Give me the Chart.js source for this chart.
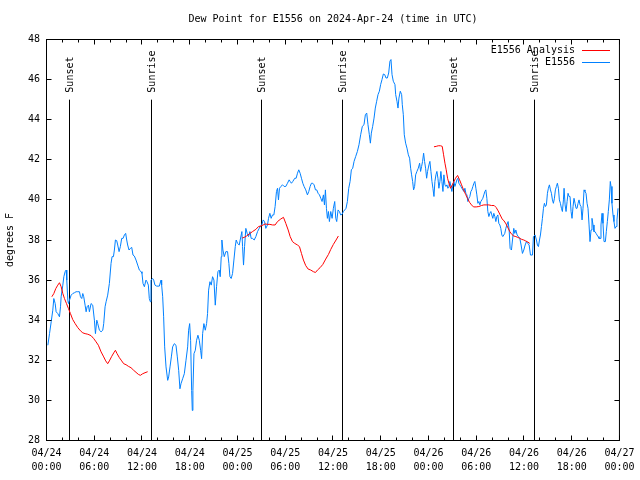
<!DOCTYPE html>
<html>
<head>
<meta charset="utf-8">
<title>Dew Point for E1556</title>
<script src="https://cdn.jsdelivr.net/npm/chart.js@4/dist/chart.umd.min.js"></script>
<style>
  html, body { margin: 0; padding: 0; background: #fff; }
  #wrap { width: 640px; height: 480px; }
</style>
</head>
<body>
<div id="wrap"><canvas id="dewChart" width="640" height="480"></canvas></div>
<script>
// Times are hours since 2024-04-24 00:00 UTC, values in degrees F

// E1556 observations
const obsHours = [
  0.17,0.38,0.59,0.79,0.92,1.09,1.21,1.42,1.63,1.76,
  1.84,2.05,2.18,2.34,2.47,2.55,2.68,2.76,2.89,3.10,
  3.30,3.51,3.72,3.93,4.14,4.27,4.43,4.56,4.68,4.85,
  4.98,5.10,5.27,5.39,5.60,5.81,6.02,6.15,6.32,6.44,
  6.65,6.86,7.07,7.19,7.36,7.49,7.69,7.90,8.11,8.24,
  8.41,8.53,8.66,8.82,8.95,9.12,9.28,9.45,9.62,9.79,
  9.95,10.08,10.20,10.37,10.54,10.71,10.87,11.04,11.25,11.46,
  11.67,11.88,12.00,12.13,12.30,12.50,12.63,12.80,12.92,13.05,
  13.13,13.34,13.47,13.63,13.84,14.18,14.39,14.47,14.60,
  14.72,14.85,15.02,15.23,15.35,15.52,15.69,15.85,16.06,16.27,
  16.44,16.61,16.77,16.90,17.11,17.32,17.53,17.74,17.86,17.99,
  18.11,18.24,18.32,18.40,18.53,18.70,18.86,19.03,19.20,19.37,
  19.49,19.62,19.78,19.95,20.12,20.24,20.37,20.54,20.70,20.87,
  21.04,21.21,21.37,21.54,21.71,21.83,21.96,22.04,22.17,22.34,
  22.54,22.75,22.92,23.05,23.21,23.38,23.55,23.72,23.84,24.01,
  24.22,24.34,24.55,24.64,24.76,24.89,25.05,25.22,25.39,25.56,
  25.72,25.89,26.10,26.31,26.52,26.73,26.85,27.06,27.23,27.40,
  27.56,27.77,27.90,28.07,28.23,28.40,28.57,28.73,28.90,29.03,29.15,
  29.28,29.45,29.66,29.86,30.07,30.28,30.49,30.62,30.78,30.95,
  31.20,31.37,31.54,31.70,31.87,32.04,32.21,32.37,32.58,32.79,
  32.96,33.13,33.29,33.46,33.63,33.80,33.96,34.13,34.30,34.47,
  34.63,34.80,34.93,35.05,35.18,35.30,35.43,35.55,35.72,35.89,
  36.05,36.22,36.35,36.47,36.64,36.81,36.97,37.14,37.31,37.48,
  37.64,37.81,37.98,38.15,38.31,38.48,38.65,38.86,39.07,39.27,
  39.48,39.69,39.90,40.07,40.24,40.40,40.57,40.70,40.82,40.99,
  41.16,41.32,41.49,41.66,41.83,41.99,42.16,42.33,42.50,42.66,
  42.83,43.00,43.16,43.29,43.42,43.58,
  43.63,43.79,43.88,44.04,44.17,44.29,44.46,44.63,44.71,44.84,
  44.96,45.13,45.30,45.47,45.63,45.76,45.88,46.01,46.13,46.26,
  46.39,46.55,46.72,46.89,47.01,47.14,47.26,47.39,47.51,47.64,
  47.77,47.89,48.06,48.18,48.31,48.44,48.56,48.69,48.81,48.94,
  49.06,49.19,49.31,49.44,49.56,49.69,49.82,49.94,50.07,50.19,
  50.32,50.44,50.57,50.69,50.82,50.94,51.07,51.20,51.32,51.45,
  51.57,51.70,51.82,51.95,52.07,52.20,52.32,52.45,52.58,52.70,
  52.83,52.95,53.08,53.20,53.33,53.45,53.58,53.71,53.83,53.96,
  54.08,54.21,54.33,54.46,54.58,54.71,54.83,54.96,55.09,55.21,
  55.34,55.46,55.59,55.71,55.84,55.96,56.09,56.21,56.34,56.47,
  56.59,56.72,56.84,56.97,57.09,57.22,57.34,57.47,57.59,57.72,
  57.85,58.01,
  58.14,58.26,58.43,58.56,58.72,58.85,58.98,59.14,59.31,59.48,
  59.64,59.81,59.98,60.15,60.31,60.48,60.65,60.82,61.07,61.19,
  61.40,61.57,61.69,61.82,61.95,62.07,62.20,62.32,62.45,62.57,
  62.70,62.82,62.95,63.07,63.20,63.33,63.45,63.58,63.70,63.83,
  63.95,64.08,64.20,64.33,64.45,64.58,64.71,64.83,64.96,65.04,
  65.17,65.29,65.42,65.54,65.67,65.79,65.92,66.04,66.17,66.29,
  66.42,66.55,66.67,66.80,66.92,67.05,67.17,67.30,67.42,67.55,
  67.67,67.80,67.93,68.05,68.18,68.30,68.43,68.55,68.68,68.80,
  68.93,69.06,69.18,69.31,69.43,69.56,69.68,69.81,69.93,70.06,
  70.23,70.35,70.48,70.60,70.73,70.85,70.94,71.06,71.19,71.31,
  71.44,71.57,71.69,71.82
];
const obsDew = [
  32.75,33.33,33.92,34.5,35.08,34.83,34.42,34.33,34.17,34.67,
  35.17,35.75,36.17,36.42,36.5,36.0,35.0,34.83,35.0,35.25,
  35.33,35.37,35.42,35.42,35.42,35.17,35.08,35.33,35.17,34.75,
  34.42,34.67,34.75,34.42,34.83,34.75,34.0,33.33,34.0,33.83,
  33.5,33.42,33.5,33.83,34.67,34.92,35.25,35.83,36.83,37.17,
  37.17,37.5,38.0,37.97,37.75,37.42,37.67,38.08,38.08,38.25,
  38.33,38.0,37.75,37.5,37.58,37.63,37.25,37.2,37.0,36.75,
  36.5,36.42,36.33,35.83,35.67,36.0,35.92,35.75,35.08,34.92,
  36.0,36.08,36.0,35.75,35.7,35.7,36.0,35.75,35.17,
  34.17,32.67,31.67,31.0,31.17,31.67,32.17,32.67,32.83,32.75,
  32.17,31.5,30.58,30.83,31.08,31.33,32.0,32.67,33.5,33.83,
  33.0,30.5,29.5,30.5,32.33,32.5,33.0,33.25,33.0,32.5,
  32.08,33.33,33.83,33.5,33.83,34.33,35.5,35.92,35.75,36.17,
  36.0,34.75,35.67,36.42,36.5,36.17,37.17,38.0,37.5,37.17,
  37.42,37.42,36.83,36.17,36.08,36.33,37.0,37.67,38.0,37.83,
  37.75,38.0,38.42,37.67,36.75,37.67,38.58,38.33,38.17,38.42,
  38.08,38.08,38.0,38.17,38.42,38.58,38.67,38.75,39.0,38.92,
  38.58,38.75,39.08,39.33,39.08,39.25,39.25,39.67,40.42,40.58,40.0,
  40.58,40.67,40.75,40.67,40.67,40.83,41.0,40.92,40.83,40.92,
  41.08,41.08,41.33,41.5,41.33,41.08,40.83,40.67,40.5,40.25,
  40.42,40.67,40.83,40.83,40.75,40.5,40.5,40.33,40.25,40.08,
  39.92,40.25,39.75,40.5,39.58,39.08,39.42,38.92,39.42,39.08,
  39.58,39.92,39.08,38.92,39.5,39.42,39.25,39.28,39.42,39.5,
  39.58,39.92,40.58,40.92,41.5,41.58,41.92,42.17,42.42,42.75,
  43.25,43.67,43.75,44.25,44.33,43.75,43.25,42.83,43.33,43.67,
  44.08,44.58,44.92,45.25,45.42,45.75,46.0,46.28,46.25,46.08,
  46.08,46.33,46.92,47.0,46.25,45.92,
  45.92,45.75,45.25,44.92,44.58,45.08,45.42,45.25,44.75,44.25,
  43.25,42.83,42.58,42.25,42.08,41.58,41.25,40.92,40.5,40.67,
  41.25,41.42,41.58,41.83,41.42,41.67,41.92,42.33,41.92,41.58,
  41.08,41.42,41.75,41.92,41.42,40.92,40.58,40.17,40.92,41.25,
  41.42,41.08,40.58,40.92,41.42,40.92,40.42,41.25,40.75,40.67,
  40.75,40.58,40.67,40.92,40.67,40.42,40.75,40.92,40.67,40.83,
  41.0,41.08,40.83,40.75,40.67,40.58,40.5,40.42,40.58,40.33,
  40.25,39.92,40.08,40.17,40.42,40.5,40.67,40.83,40.92,40.58,
  40.25,39.83,39.92,39.75,39.92,40.0,40.08,40.25,40.42,40.5,
  40.08,39.42,39.17,39.33,39.42,39.25,39.08,39.33,39.17,38.92,
  39.17,39.25,38.83,38.75,38.58,38.25,38.17,38.25,38.33,38.58,
  38.75,38.92,
  38.5,37.58,37.5,38.0,38.58,38.33,38.5,38.25,38.17,38.08,
  37.75,37.33,37.5,37.75,37.92,37.83,37.75,37.25,37.25,38.17,
  38.25,38.0,37.75,37.67,38.0,38.25,38.67,39.08,39.58,39.83,
  39.67,39.75,40.33,40.58,40.75,40.5,40.33,40.0,39.83,40.08,
  40.5,40.67,40.83,40.58,40.0,39.83,39.58,39.42,40.0,40.58,
  39.75,39.42,39.92,40.33,40.17,40.17,39.42,39.08,39.67,40.08,
  39.83,39.58,39.58,39.83,40.0,39.75,39.67,39.0,39.58,40.5,
  40.42,40.33,39.83,39.58,38.75,37.92,38.5,39.08,38.75,38.42,
  38.42,38.33,38.25,38.17,38.08,38.08,38.75,39.33,38.83,37.92,
  37.92,38.42,38.92,39.42,40.0,40.92,40.67,39.83,39.25,38.92,
  38.58,38.67,39.0,39.58
];

// E1556 Analysis (null = no analysis, breaks the line)
const anaHours = [
  0.67,0.92,1.17,1.42,1.63,1.84,2.05,2.26,2.51,2.76,
  3.01,3.30,3.60,3.93,4.27,4.56,4.85,5.19,5.60,5.94,
  6.23,6.52,6.86,7.19,7.44,7.69,7.90,8.20,8.45,8.66,
  8.87,9.16,9.45,9.70,10.0,10.29,10.62,10.96,11.25,11.54,
  11.79,12.09,12.38,12.71,
  18,
  24.6,24.84,25.14,25.47,25.89,26.31,26.64,26.94,27.23,27.48,
  27.77,28.07,28.40,28.73,29.03,29.45,29.78,30.07,30.37,30.62,
  30.91,31.20,31.54,31.79,32.04,32.29,32.58,32.88,33.21,33.54,
  33.80,34.05,34.38,34.72,35.09,35.43,35.72,36.05,36.39,36.68,
  42,
  48.69,48.98,49.23,49.52,49.73,49.90,50.07,50.23,50.40,50.57,
  50.78,50.99,51.20,51.40,51.66,51.91,52.16,52.41,52.66,52.91,
  53.16,53.41,53.66,54.0,54.33,54.67,54.96,55.25,55.59,55.92,
  56.26,56.51,56.76,57.01,57.26,57.5,57.75,58.0,58.22,58.47,
  58.72,58.98,59.23,59.48,59.73,59.98,60.23,60.48,60.73
];
const anaDew = [
  35.17,35.33,35.58,35.75,35.87,35.67,35.33,35.08,34.83,34.58,
  34.33,34.03,33.83,33.63,33.47,33.37,33.33,33.3,33.23,33.08,
  32.92,32.75,32.42,32.17,31.97,31.83,31.97,32.2,32.37,32.5,
  32.33,32.13,31.97,31.83,31.78,31.7,31.63,31.5,31.4,31.3,
  31.25,31.33,31.38,31.43,
  null,
  38.1,38.13,38.2,38.3,38.42,38.53,38.67,38.7,38.75,38.8,
  38.78,38.78,38.75,38.75,38.92,39.05,39.13,38.83,38.5,38.17,
  37.92,37.83,37.75,37.67,37.33,37.0,36.72,36.55,36.5,36.42,
  36.38,36.5,36.62,36.78,37.05,37.28,37.53,37.78,38.0,38.2,
  null,
  42.65,42.67,42.7,42.7,42.67,42.25,41.83,41.5,41.08,40.83,
  40.58,40.75,40.92,41.08,41.22,41.0,40.75,40.5,40.28,40.08,
  39.88,39.75,39.65,39.65,39.67,39.72,39.75,39.75,39.75,39.72,
  39.72,39.62,39.45,39.25,39.05,38.95,38.8,38.6,38.42,38.28,
  38.2,38.17,38.13,38.08,38.03,38.0,37.95,37.9,37.83
];

// Sunrise / sunset markers
const sunHours = [2.95, 13.25, 27.05, 37.2, 51.15, 61.3];
const sunLabels = ['Sunset', 'Sunrise', 'Sunset', 'Sunrise', 'Sunset', 'Sunrise'];
const sunLineTop = 45;

// x tick labels, one per 6 hours
const xTickDays = ['04/24','04/24','04/24','04/24','04/25','04/25','04/25','04/25','04/26','04/26','04/26','04/26','04/27'];
const xTickTimes = ['00:00','06:00','12:00','18:00','00:00','06:00','12:00','18:00','00:00','06:00','12:00','18:00','00:00'];

const titleText = 'Dew Point for E1556 on 2024-Apr-24 (time in UTC)';
const MONO = '"DejaVu Sans Mono", "Liberation Mono", monospace';
const RED = 'rgb(255,0,0)';
const BLUE = 'rgb(0,128,255)';

function toPoints(xs, ys) {
    return xs.map((x, i) => ({ x: x, y: ys[i] }));
}

function half(v) {
    return Math.round(v - 0.5) + 0.5;
}

// gnuplot-like decorations: sun lines, frame, inward ticks, title, key
const gnuplotLook = {
    id: 'gnuplotLook',
    beforeDatasetsDraw(chart) {
        const { ctx, chartArea: a, scales: { x, y } } = chart;
        ctx.save();
        ctx.strokeStyle = '#000';
        ctx.fillStyle = '#000';
        ctx.lineWidth = 1;
        ctx.font = '10px ' + MONO;
        const top = y.getPixelForValue(sunLineTop);
        sunHours.forEach((h, i) => {
            const px = half(x.getPixelForValue(h));
            ctx.beginPath();
            ctx.moveTo(px, top);
            ctx.lineTo(px, a.bottom);
            ctx.stroke();
            ctx.save();
            ctx.translate(px + 0.5, top - 7);
            ctx.rotate(-Math.PI / 2);
            ctx.textAlign = 'left';
            ctx.textBaseline = 'middle';
            ctx.fillText(sunLabels[i], 0, 0);
            ctx.restore();
        });
        ctx.restore();
    },
    afterDraw(chart) {
        const { ctx, chartArea: a, scales: { x, y } } = chart;
        ctx.save();
        ctx.strokeStyle = '#000';
        ctx.fillStyle = '#000';
        ctx.lineWidth = 1;

        // frame
        ctx.strokeRect(a.left, a.top, a.right - a.left, a.bottom - a.top);

        // x ticks every 2 hours, longer every 6
        ctx.beginPath();
        for (let h = 0; h <= 72; h += 2) {
            const px = half(x.getPixelForValue(h));
            const len = h % 6 === 0 ? 5 : 3;
            ctx.moveTo(px, a.bottom);
            ctx.lineTo(px, a.bottom - len);
            ctx.moveTo(px, a.top);
            ctx.lineTo(px, a.top + len);
        }
        // y ticks on both sides
        y.ticks.forEach(t => {
            const py = half(y.getPixelForValue(t.value));
            ctx.moveTo(a.left, py);
            ctx.lineTo(a.left + 5, py);
            ctx.moveTo(a.right, py);
            ctx.lineTo(a.right - 5, py);
        });
        ctx.stroke();

        // title
        ctx.font = '10px ' + MONO;
        ctx.textAlign = 'center';
        ctx.textBaseline = 'middle';
        ctx.fillText(titleText, (a.left + a.right) / 2, 19);

        // key
        const rows = [
            { text: chart.data.datasets[0].label, color: RED, y: 50 },
            { text: chart.data.datasets[1].label, color: BLUE, y: 62.5 }
        ];
        ctx.textAlign = 'right';
        rows.forEach(r => {
            ctx.fillStyle = '#000';
            ctx.fillText(r.text, 575, r.y);
            ctx.strokeStyle = r.color;
            ctx.beginPath();
            ctx.moveTo(582, half(r.y));
            ctx.lineTo(610, half(r.y));
            ctx.stroke();
        });
        ctx.restore();
    }
};

const ctx = document.getElementById('dewChart').getContext('2d');
const dewChart = new Chart(ctx, {
    type: 'line',
    data: {
        datasets: [{
            label: 'E1556 Analysis',
            data: toPoints(anaHours, anaDew),
            borderColor: RED,
            borderWidth: 1,
            pointRadius: 0,
            tension: 0,
            spanGaps: false,
        }, {
            label: 'E1556',
            data: toPoints(obsHours, obsDew),
            borderColor: BLUE,
            borderWidth: 1,
            pointRadius: 0,
            tension: 0,
        }]
    },
    options: {
        responsive: false,
        animation: false,
        layout: { padding: { top: 39.5, right: 18.5, left: 0, bottom: 0 } },
        plugins: {
            legend: { display: false },
            tooltip: { enabled: false },
            title: { display: false }
        },
        scales: {
            x: {
                type: 'linear',
                min: 0,
                max: 72,
                grid: { display: false, drawTicks: false },
                border: { display: false },
                ticks: {
                    stepSize: 6,
                    autoSkip: false,
                    maxRotation: 0,
                    color: '#000',
                    padding: 5.5,
                    font: { family: MONO, size: 10, lineHeight: 1.4 },
                    callback: v => {
                        const i = Math.round(v / 6);
                        return [xTickDays[i], xTickTimes[i]];
                    }
                },
                afterFit: s => { s.height = 39.5; }
            },
            y: {
                min: 28,
                max: 48,
                grid: { display: false, drawTicks: false },
                border: { display: false },
                ticks: {
                    stepSize: 2,
                    color: '#000',
                    padding: 6.5,
                    font: { family: MONO, size: 10 }
                },
                title: {
                    display: true,
                    text: 'degrees F',
                    color: '#000',
                    font: { family: MONO, size: 10 },
                    padding: { top: 4, bottom: 0 }
                },
                afterFit: s => { s.width = 46.5; }
            }
        }
    },
    plugins: [gnuplotLook]
});
</script>
</body>
</html>
